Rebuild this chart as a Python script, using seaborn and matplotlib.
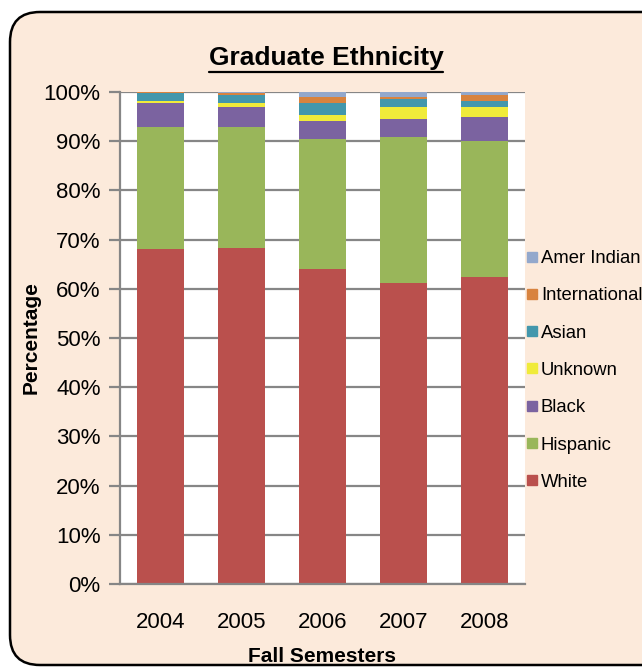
import seaborn as sns
import matplotlib.pyplot as plt
import pandas as pd
import numpy as np
from matplotlib.patches import FancyBboxPatch
from matplotlib.lines import Line2D

years = ['2004', '2005', '2006', '2007', '2008']
# percentages, bottom to top of each bar
white = [68.1, 68.2, 64.0, 61.2, 62.4]
hispanic = [24.8, 24.7, 26.4, 29.7, 27.6]
black = [4.9, 4.1, 3.7, 3.6, 4.9]
unknown = [0.4, 0.8, 1.2, 2.5, 2.1]
asian = [1.5, 1.5, 2.4, 1.5, 1.2]
international = [0.2, 0.5, 1.3, 0.5, 1.1]
amer_indian = [0.1, 0.2, 1.0, 1.0, 0.7]

groups = ['White', 'Hispanic', 'Black', 'Unknown', 'Asian', 'International', 'Amer Indian']
colors = ['#BA504D', '#99B65A', '#7B63A0', '#F0EB3A', '#4397AC', '#D8833F', '#93A8CC']

df = pd.DataFrame({'year': years, 'White': white, 'Hispanic': hispanic, 'Black': black,
                   'Unknown': unknown, 'Asian': asian, 'International': international,
                   'Amer Indian': amer_indian})
cum = df[groups].cumsum(axis=1)
cum = cum.div(cum['Amer Indian'], axis=0) * 100
cum['year'] = years

sns.set_style('white')
plt.rcParams['font.family'] = ['Liberation Sans', 'DejaVu Sans']
plt.rcParams['text.color'] = 'black'
plt.rcParams['axes.labelcolor'] = 'black'
plt.rcParams['xtick.color'] = 'black'
plt.rcParams['ytick.color'] = 'black'

fig = plt.figure(figsize=(6.42, 6.68), dpi=100, facecolor='white')

# rounded beige frame
bg = fig.add_axes([0, 0, 1, 1], zorder=0)
bg.set_xlim(0, 642)
bg.set_ylim(668, 0)
bg.axis('off')
bg.add_patch(FancyBboxPatch((10, 12), 680, 653, boxstyle='round,pad=0,rounding_size=30',
                            facecolor='#FCEADB', edgecolor='black', linewidth=1.8))

ax = fig.add_axes([120/642, 1-584/668, 405/642, 492/668], zorder=1)
ax.set_facecolor('white')
ax.set_axisbelow(True)
ax.yaxis.grid(True, color='#868686', linewidth=1.6)

# draw stacked bars from the top down (cumulative heights)
for g, c in reversed(list(zip(groups, colors))):
    sns.barplot(data=cum, x='year', y=g, color=c, saturation=1, width=0.57,
                linewidth=0, ax=ax, zorder=2)

ax.set_ylim(0, 100)
ax.set_yticks(np.arange(0, 101, 10))
ax.set_yticklabels([f'{v}%' for v in range(0, 101, 10)], fontsize=16)
ax.tick_params(axis='y', length=8, width=1.6, color='#868686', labelcolor='black', pad=6, left=True)
ax.tick_params(axis='x', length=0, labelsize=16, labelcolor='black', pad=20)
for s in ['top', 'right']:
    ax.spines[s].set_visible(False)
for s in ['left', 'bottom']:
    ax.spines[s].set_color('#868686')
    ax.spines[s].set_linewidth(1.6)

ax.set_xlabel('Fall Semesters', fontsize=15, fontweight='bold', labelpad=10)
ax.set_ylabel('Percentage', fontsize=15, fontweight='bold', labelpad=2)

handles = [Line2D([], [], marker='s', linestyle='', markersize=7.5, markerfacecolor=c,
                  markeredgecolor=c) for c in reversed(colors)]
fig.legend(handles, list(reversed(groups)), loc='upper left', bbox_to_anchor=(527/642, 1-250/668),
           frameon=False, fontsize=13.3, handlelength=0.5, handletextpad=0.25,
           labelspacing=1.1, borderaxespad=0, borderpad=0)

title = fig.text(326/642, 1-58/668, 'Graduate Ethnicity', fontsize=19, fontweight='bold',
                 ha='center', va='center')
fig.canvas.draw()
bb = title.get_window_extent()
x0, x1 = bb.x0/642, bb.x1/642
yl = (bb.y0 - 2)/668
fig.add_artist(Line2D([x0, x1], [yl, yl], color='black', linewidth=1.6, transform=fig.transFigure))

fig.savefig('out.png', dpi=100, facecolor='white')
